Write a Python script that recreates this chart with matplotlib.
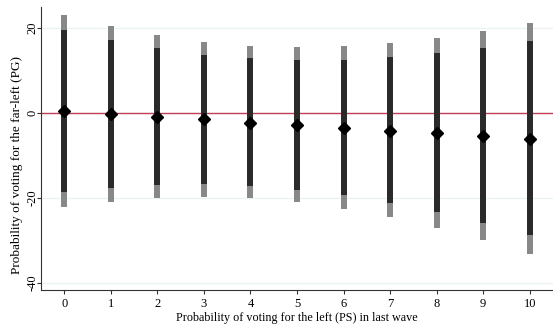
import matplotlib
matplotlib.use("Agg")
import matplotlib.pyplot as plt

x = [0, 1, 2, 3, 4, 5, 6, 7, 8, 9, 10]
estimate = [0.4, -0.3, -0.9, -1.5, -2.3, -2.9, -3.5, -4.2, -4.8, -5.4, -6.1]
ci95_low = [-18.6, -17.7, -17.0, -16.8, -17.2, -18.1, -19.4, -21.3, -23.4, -26.0, -28.7]
ci95_high = [19.5, 17.2, 15.4, 13.8, 13.0, 12.5, 12.6, 13.3, 14.2, 15.4, 16.9]
ci99_low = [-22.2, -20.9, -20.1, -19.7, -20.0, -21.0, -22.5, -24.6, -27.1, -29.9, -33.1]
ci99_high = [23.1, 20.6, 18.4, 16.8, 15.8, 15.5, 15.8, 16.5, 17.8, 19.4, 21.2]
yticks = [-40, -20, 0, 20]

plt.rcParams['font.family'] = ['Liberation Serif', 'DejaVu Serif']

fig = plt.figure(figsize=(5.53, 3.27), dpi=100)
ax = fig.add_axes([41/553, 37/327, 1 - 41/553, (290-7)/327])

for yt in yticks:
    ax.axhline(yt, color='#eaf2f3', lw=0.9, zorder=0)
ax.axhline(0, color='#c0405a', lw=1.0, zorder=1)

ax.vlines(x, ci99_low, ci99_high, color='#888888', lw=4.3, zorder=2)
ax.vlines(x, ci95_low, ci95_high, color='#2a2a2a', lw=4.3, zorder=3)
ax.plot(x, estimate, linestyle='none', marker='D', ms=6.3, color='black', zorder=4)

ax.set_xlim(-0.5, 10.5)
ax.set_ylim(-41.7, 25.0)
ax.set_xticks(x)
ax.set_yticks(yticks)
ax.set_yticklabels([str(v) for v in yticks], rotation=90, rotation_mode='anchor',
                   ha='center', va='baseline')
ax.tick_params(axis='x', labelsize=9, length=3, width=0.8, color='#333333', pad=3)
ax.tick_params(axis='y', labelsize=9, length=3, width=0.8, color='#333333', pad=1)
ax.spines['top'].set_visible(False)
ax.spines['right'].set_visible(False)
ax.spines['left'].set_color('#333333')
ax.spines['bottom'].set_color('#333333')
ax.set_xlabel('Probability of voting for the left (PS) in last wave', fontsize=8.7)
ax.set_ylabel('Probability of voting for the far-left (PG)', fontsize=9.5)
ax.xaxis.set_label_coords(0.5, -0.077)
ax.yaxis.set_label_coords(-0.036, 0.44)

fig.savefig('out.png', dpi=100)
